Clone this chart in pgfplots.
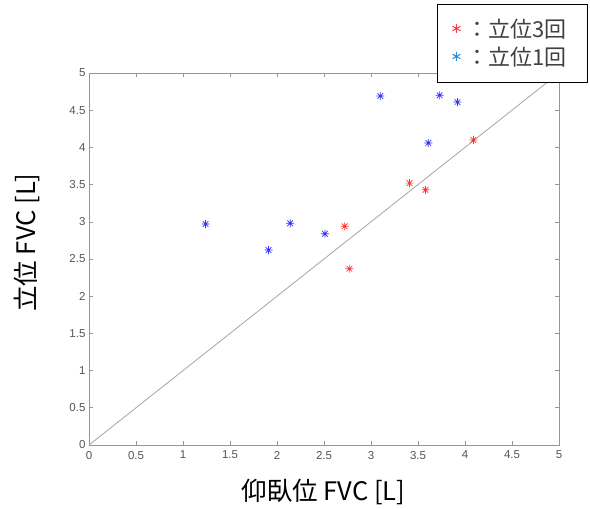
\documentclass[border=0pt]{standalone}
\usepackage{pgfplots}
\pgfplotsset{compat=1.18}
\usepackage{fontspec}
\setmainfont{Liberation Sans}
\newfontfamily\cjk{Noto Sans CJK JP}
\definecolor{ptred}{RGB}{255,50,50}
\definecolor{ptblue}{RGB}{50,50,255}
\definecolor{legred}{RGB}{255,60,60}
\definecolor{legblue}{RGB}{40,140,220}
\definecolor{axgray}{RGB}{150,150,150}
\definecolor{diaggray}{RGB}{165,165,165}
\definecolor{ticklab}{RGB}{85,85,85}
\pgfdeclareplotmark{star8}{%
  \pgfpathmoveto{\pgfqpoint{0pt}{\pgfplotmarksize}}%
  \pgfpathlineto{\pgfqpoint{0pt}{-\pgfplotmarksize}}%
  \pgfpathmoveto{\pgfqpoint{\pgfplotmarksize}{0pt}}%
  \pgfpathlineto{\pgfqpoint{-\pgfplotmarksize}{0pt}}%
  \pgfpathmoveto{\pgfqpoint{.707\pgfplotmarksize}{.707\pgfplotmarksize}}%
  \pgfpathlineto{\pgfqpoint{-.707\pgfplotmarksize}{-.707\pgfplotmarksize}}%
  \pgfpathmoveto{\pgfqpoint{-.707\pgfplotmarksize}{.707\pgfplotmarksize}}%
  \pgfpathlineto{\pgfqpoint{.707\pgfplotmarksize}{-.707\pgfplotmarksize}}%
  \pgfusepathqstroke}
\begin{document}
\begin{tikzpicture}
\begin{axis}[
  at={(89pt,64pt)}, anchor=south west,
  scale only axis, width=470pt, height=372pt,
  xmin=0, xmax=5, ymin=0, ymax=5,
  xtick={0,0.5,...,5}, ytick={0,0.5,...,5},
  xtick pos=both, ytick pos=both,
  tick align=inside, major tick length=4pt,
  axis line style={axgray, line width=0.8pt},
  tick style={axgray, line width=0.6pt},
  /pgf/number format/assume math mode=true,
  every tick label/.append style={font=\fontsize{11.5}{13}\selectfont, text=ticklab},
  xticklabel style={yshift=-2.5pt},
  xlabel={\cjk 仰臥位 FVC [L]},
  xlabel style={font=\fontsize{25.5}{29}\selectfont, at={(axis description cs:0.499,-0.126)}, anchor=center},
  ylabel={\cjk 立位 FVC [L]},
  ylabel style={font=\fontsize{25.5}{29}\selectfont, at={(axis description cs:-0.132,0.544)}, anchor=center, rotate=0},
  legend style={at={(axis description cs:0.7404,1.1855)}, anchor=north west,
    draw=black, line width=1pt, fill=white,
    font=\cjk\fontsize{22}{26}\selectfont, text=black!75,
    inner xsep=0pt, inner ysep=13pt, row sep=4pt, column sep=0pt,
    nodes={inner xsep=0pt}},
  legend cell align=left,
  legend image code/.code={%
    \path[draw=none, fill=none] (0pt,0pt) -- (29pt,0pt);
    \path[#1] plot coordinates {(19pt,1pt)};},
]
\addplot[diaggray, line width=0.8pt, forget plot] coordinates {(0,0) (5,5)};
\addplot[only marks, mark=star8, mark size=4pt, ptblue, line width=0.7pt, forget plot] coordinates {
  (1.24,2.97) (1.91,2.62) (2.14,2.98) (2.51,2.84) (3.10,4.69) (3.61,4.06) (3.73,4.70) (3.92,4.61)
};
\addplot[only marks, mark=star8, mark size=4pt, ptred, line width=0.7pt, forget plot] coordinates {
  (2.72,2.94) (2.77,2.37) (3.41,3.52) (3.58,3.43) (4.09,4.10)
};
\addlegendimage{only marks, mark=asterisk, mark size=4.5pt, legred, line width=1pt}
\addlegendentry{：立位3回\rule{21pt}{0pt}}
\addlegendimage{only marks, mark=asterisk, mark size=4.5pt, legblue, line width=1pt}
\addlegendentry{：立位1回\rule{21pt}{0pt}}
\end{axis}
\pgfresetboundingbox
\path (0,0) rectangle (590pt,509pt);
\end{tikzpicture}
\end{document}
